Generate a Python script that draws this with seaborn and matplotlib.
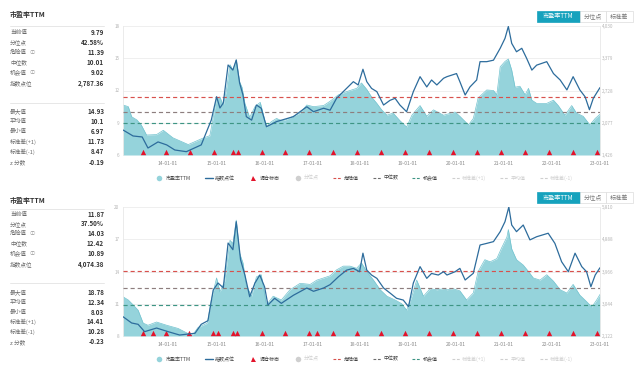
import matplotlib
matplotlib.use('Agg')
import matplotlib.pyplot as plt
import seaborn as sns
from matplotlib.lines import Line2D
from matplotlib.patches import Rectangle

# ---------------- data ----------------
x_ticks = [2014, 2015, 2016, 2017, 2018, 2019, 2020, 2021, 2022, 2023]
x_tick_labels = ['14-01-01', '15-01-01', '16-01-01', '17-01-01', '18-01-01',
                 '19-01-01', '20-01-01', '21-01-01', '22-01-01', '23-01-01']

# panel 1
pe1_t = [2013.06, 2013.17, 2013.24, 2013.35, 2013.44, 2013.55, 2013.76, 2013.90,
         2014.10, 2014.42, 2014.69, 2014.87, 2014.94,
         2015.01, 2015.08, 2015.15, 2015.21, 2015.29, 2015.35, 2015.42, 2015.49, 2015.54, 2015.60, 2015.70, 2015.81, 2015.92,
         2016.05, 2016.15, 2016.26, 2016.36, 2016.44, 2016.75, 2016.89,
         2017.03, 2017.24, 2017.375, 2017.55, 2017.72, 2017.93,
         2018.03, 2018.14, 2018.24, 2018.35, 2018.45, 2018.56, 2018.69, 2018.83, 2018.97,
         2019.08, 2019.25, 2019.39, 2019.53, 2019.74, 2019.98,
         2020.08, 2020.26, 2020.36, 2020.46, 2020.64, 2020.78, 2020.85, 2020.92,
         2021.02, 2021.09, 2021.16, 2021.23, 2021.33, 2021.44, 2021.51, 2021.58, 2021.68, 2021.89,
         2022.03, 2022.13, 2022.27, 2022.41, 2022.51, 2022.65, 2022.79, 2022.90, 2023.00]
pe1_v = [10.65, 10.5, 9.56, 9.26, 8.8, 7.86, 7.9, 8.3,
         7.6, 6.97, 7.5, 7.8, 9.5,
         11.3, 11.4, 10.6, 11.9, 14.4, 13.9, 14.85, 12.8, 12.3, 10.8, 9.5, 10.5, 10.9,
         8.6, 9.1, 9.4, 9.2, 9.26, 9.9, 10.65,
         10.5, 10.6, 11.0, 11.6, 11.9, 12.2,
         12.7, 12.1, 11.4, 10.8, 10.2, 9.7, 9.9, 9.2, 8.6,
         9.7, 10.6, 9.6, 10.2, 9.7, 10.0,
         9.6, 8.8, 9.4, 11.3, 12.05, 12.0, 11.6, 14.2,
         14.7, 14.93, 13.9, 12.3, 12.4, 11.6, 12.2, 11.1, 10.8, 10.8,
         11.1, 10.6, 9.7, 10.6, 9.9, 9.6, 8.8, 9.4, 9.79]
idx1_t = [2013.06, 2013.27, 2013.46, 2013.58, 2013.79, 2013.97,
          2014.14, 2014.38, 2014.69, 2014.90,
          2015.01, 2015.08, 2015.15, 2015.25, 2015.35, 2015.42, 2015.49, 2015.56, 2015.63, 2015.74, 2015.84, 2015.94,
          2016.05, 2016.26, 2016.61, 2016.89,
          2017.03, 2017.24, 2017.375, 2017.51, 2017.65, 2017.86, 2017.96,
          2018.06, 2018.14, 2018.24, 2018.35, 2018.49, 2018.625, 2018.73, 2018.83, 2018.97,
          2019.11, 2019.25, 2019.39, 2019.49, 2019.60, 2019.74, 2019.81,
          2020.01, 2020.08, 2020.19, 2020.29, 2020.43, 2020.50, 2020.64, 2020.78, 2020.92,
          2021.02, 2021.09, 2021.16, 2021.26, 2021.37, 2021.47, 2021.58, 2021.68, 2021.89,
          2022.03, 2022.17, 2022.31, 2022.44, 2022.58, 2022.69, 2022.78, 2022.86, 2023.00]
idx1_v = [1931, 1810, 1790, 1567, 1690, 1630,
          1527, 1493, 1630, 2132,
          2603, 2375, 2476, 3243, 3140, 3344, 2880, 2637, 2200, 2130, 2435, 2370,
          1997, 2100, 2200, 2400,
          2300, 2370, 2330, 2570, 2705, 2906, 2840,
          3157, 2906, 2770, 2705, 2435, 2530, 2570, 2435, 2300,
          2705, 3007, 2800, 2940, 2840, 2975, 3007,
          3070, 2906, 2637, 2800, 2940, 3310, 3310, 3340, 3580,
          3780, 4020, 3680, 3510, 3580, 3380, 3140, 3240, 3310,
          3070, 2940, 2740, 3007, 2740, 2600, 2340, 2570, 2787]
tri1_t = [2013.48, 2013.96, 2014.46, 2014.96, 2015.35, 2015.46, 2015.96, 2016.44, 2016.94,
          2017.44, 2017.94, 2018.43, 2018.94, 2019.44, 2019.94, 2020.44, 2020.94, 2021.43,
          2021.93, 2022.43, 2022.93]

# panel 2
pe2_t = [2013.06, 2013.17, 2013.27, 2013.375, 2013.48, 2013.58, 2013.76, 2013.97,
         2014.21, 2014.50, 2014.625, 2014.82, 2014.90,
         2015.01, 2015.08, 2015.18, 2015.29, 2015.35, 2015.42, 2015.49, 2015.56, 2015.63, 2015.74, 2015.84, 2015.94,
         2016.05, 2016.19, 2016.36, 2016.54, 2016.75, 2016.96,
         2017.10, 2017.24, 2017.375, 2017.51, 2017.65, 2017.79, 2017.93,
         2018.03, 2018.14, 2018.28, 2018.42, 2018.56, 2018.73, 2018.87, 2018.97,
         2019.08, 2019.18, 2019.32, 2019.46, 2019.60, 2019.74, 2019.81, 2019.94,
         2020.08, 2020.22, 2020.36, 2020.46, 2020.60, 2020.71, 2020.85, 2020.95,
         2021.06, 2021.09, 2021.16, 2021.26, 2021.40, 2021.51, 2021.61, 2021.75, 2021.89,
         2022.03, 2022.17, 2022.31, 2022.44, 2022.58, 2022.72, 2022.83, 2022.93, 2023.00]
pe2_v = [11.65, 11.35, 10.9, 10.4, 9.2, 9.0, 9.3, 9.0,
         8.7, 8.03, 8.8, 9.2, 11.35,
         13.4, 12.1, 13.1, 16.9, 16.6, 18.78, 15.7, 14.8, 12.7, 11.7, 13.5, 13.7,
         10.9, 11.7, 11.35, 12.3, 12.9, 12.8,
         13.2, 13.4, 13.6, 14.15, 14.5, 14.5, 14.3,
         14.8, 14.0, 13.2, 12.3, 11.7, 11.35, 11.0, 10.4,
         11.7, 13.2, 11.7, 12.4, 12.3, 12.4, 12.3, 12.4,
         12.2, 11.35, 12.0, 14.0, 15.1, 14.9, 15.2, 16.2,
         17.2, 17.9, 16.1, 15.1, 14.6, 14.0, 13.4, 13.2, 13.7,
         13.1, 12.3, 12.0, 12.8, 11.8, 11.2, 10.7, 11.35, 11.87]
idx2_t = [2013.06, 2013.24, 2013.375, 2013.51, 2013.76,
          2014.00, 2014.24, 2014.56, 2014.69, 2014.83, 2014.94,
          2015.04, 2015.15, 2015.25, 2015.35, 2015.42, 2015.51, 2015.60, 2015.70, 2015.81, 2015.91,
          2016.01, 2016.08, 2016.22, 2016.36, 2016.61, 2016.89,
          2017.03, 2017.24, 2017.375, 2017.55, 2017.72, 2017.86, 2017.99,
          2018.06, 2018.14, 2018.24, 2018.35, 2018.49, 2018.625, 2018.76, 2018.90,
          2019.01, 2019.11, 2019.25, 2019.39, 2019.49, 2019.63, 2019.74, 2019.81, 2019.98,
          2020.08, 2020.19, 2020.36, 2020.50, 2020.64, 2020.78, 2020.92,
          2021.02, 2021.10, 2021.16, 2021.26, 2021.40, 2021.54, 2021.68, 2021.92,
          2022.06, 2022.20, 2022.34, 2022.48, 2022.62, 2022.72, 2022.81, 2022.90, 2023.00]
idx2_v = [2674, 2494, 2456, 2246, 2350,
          2246, 2150, 2200, 2456, 2560, 3437,
          3637, 3500, 4780, 4590, 5390, 4300, 3865, 3245, 3637, 3865,
          3530, 3008, 3200, 3056, 3286, 3494,
          3400, 3494, 3590, 3817, 4005, 4055, 3960,
          4490, 4005, 3865, 3770, 3494, 3350, 3200, 3150,
          2960, 3637, 4105, 3770, 3910, 3865, 3960, 3865, 3960,
          4055, 3723, 3915, 4723, 4770, 4820, 5105,
          5390, 5810, 5295, 5105, 5295, 4870, 4960, 5060,
          4770, 4245, 3960, 4490, 4105, 3960, 3530, 3865, 4074]
tri2_t = [2013.48, 2013.69, 2013.96, 2014.44, 2014.94, 2015.04, 2015.35, 2015.44, 2015.96,
          2016.44, 2016.94, 2017.10, 2017.44, 2017.94, 2018.43, 2018.94, 2019.44, 2019.94,
          2020.44, 2020.94, 2021.43, 2021.94, 2022.43, 2022.94]

left1_yticks = [6, 9, 12, 15, 18]
right1_yticks = [1426, 2077, 2728, 3379, 4030]
left2_yticks = [8, 11, 14, 17, 20]
right2_yticks = [2122, 3044, 3966, 4888, 5810]

levels1 = [11.39, 10.01, 9.02]   # 危险值, 中位数, 机会值
levels2 = [14.03, 12.42, 10.89]

info_labels = ['当前值', '分位点', '危险值', '中位数', '机会值', '指数点位']
stat_labels = ['最大值', '平均值', '最小值', '标准差(+1)', '标准差(-1)', 'z 分数']
info1 = ['9.79', '42.58%', '11.39', '10.01', '9.02', '2,787.36']
stat1 = ['14.93', '10.1', '6.97', '11.73', '8.47', '-0.19']
info2 = ['11.87', '37.50%', '14.03', '12.42', '10.89', '4,074.38']
stat2 = ['18.78', '12.34', '8.03', '14.41', '10.28', '-0.23']

legend_labels = ['市盈率TTM', '指数点位', '调仓标志', '分位点', '危险值', '中位数', '机会值',
                 '标准差(+1)', '平均值', '标准差(-1)']
button_labels = ['市盈率TTM', '分位点', '标准差']

# ---------------- style ----------------
sns.set_theme(style='white')
plt.rcParams['font.family'] = ['Noto Sans CJK SC', 'DejaVu Sans']
plt.rcParams['axes.unicode_minus'] = False

W, H = 640, 372
fig = plt.figure(figsize=(6.4, 3.72), dpi=100)
fig.patch.set_facecolor('white')


def fx(x):
    return x / W


def fy(y):
    return 1 - y / H


TEAL = '#95d3db'
TEAL_EDGE = '#72c3cf'
BLUE = '#2d6c9c'
RED = '#d8514d'
MED = '#8d7e7e'
OPP = '#3e9584'
TRI = '#e3132b'
OFF = '#cfcfcf'


def draw_panel(top, pe_t, pe_v, idx_t, idx_v, tri_t, lyt, ryt, lv, info, stat, txt):
    ax = fig.add_axes([fx(123), fy(top + 129), fx(600) - fx(123), 129 / H])
    ax.set_facecolor('none')
    ax.fill_between(pe_t, lyt[0], pe_v, color=TEAL, lw=0, zorder=1)
    sns.lineplot(x=pe_t, y=pe_v, ax=ax, color=TEAL_EDGE, lw=0.5, estimator=None, zorder=2)
    for v, c in zip(lv, [RED, MED, OPP]):
        ax.axhline(v, color=c, lw=0.85, ls=(0, (3.5, 2.5)), zorder=3)
    ax.scatter(tri_t, [lyt[0] + 0.25] * len(tri_t), marker='^', s=15, color=TRI,
               linewidths=0, clip_on=False, zorder=6)
    ax.set_xlim(2013.06, 2023.0)
    ax.set_ylim(lyt[0], lyt[-1])
    ax.set_yticks(lyt)
    ax.set_yticklabels([str(t) for t in lyt])
    ax.set_xticks(x_ticks)
    ax.set_xticklabels(x_tick_labels)
    ax.grid(axis='y', color='#ececec', lw=0.6)
    ax.grid(axis='x', visible=False)
    ax.tick_params(axis='x', length=0, labelsize=3.6, colors='#8a8a8a', pad=4.5)
    ax.tick_params(axis='y', length=0, labelsize=3.3, colors='#b5b5b5', pad=2.5)
    ax.set_xlabel('')
    ax.set_ylabel('')
    for s in ['top', 'bottom']:
        ax.spines[s].set_visible(False)
    for s in ['left', 'right']:
        ax.spines[s].set_color('#e8e8e8')
        ax.spines[s].set_linewidth(0.6)

    ax2 = ax.twinx()
    sns.lineplot(x=idx_t, y=idx_v, ax=ax2, color=BLUE, lw=0.9, estimator=None, zorder=5)
    ax2.set_ylim(ryt[0], ryt[-1])
    ax2.set_yticks(ryt)
    ax2.set_yticklabels([f'{t:,}' for t in ryt])
    ax2.grid(False)
    ax2.tick_params(axis='y', length=0, labelsize=3.3, colors='#b5b5b5', pad=1.2)
    ax2.set_ylabel('')
    for s in ax2.spines.values():
        s.set_visible(False)

    # legend
    handles = [
        Line2D([], [], ls='', marker='o', markersize=4.0, markerfacecolor=TEAL, markeredgewidth=0),
        Line2D([], [], color=BLUE, lw=1.0),
        Line2D([], [], ls='', marker='^', markersize=3.6, markerfacecolor=TRI, markeredgewidth=0),
        Line2D([], [], ls='', marker='o', markersize=4.0, markerfacecolor=OFF, markeredgewidth=0),
        Line2D([], [], color=RED, lw=0.8, ls=(0, (2.5, 1.5))),
        Line2D([], [], color='#6f6f6f', lw=0.8, ls=(0, (2.5, 1.5))),
        Line2D([], [], color=OPP, lw=0.8, ls=(0, (2.5, 1.5))),
        Line2D([], [], color=OFF, lw=0.8, ls=(0, (2.5, 1.5))),
        Line2D([], [], color=OFF, lw=0.8, ls=(0, (2.5, 1.5))),
        Line2D([], [], color=OFF, lw=0.8, ls=(0, (2.5, 1.5))),
    ]
    leg = fig.legend(handles=handles, labels=legend_labels, loc='center',
                     bbox_to_anchor=(fx(364), fy(top + 152)), ncol=10, frameon=False,
                     fontsize=3.6, handlelength=1.6, handletextpad=0.5, columnspacing=2.8)
    for i, t in enumerate(leg.get_texts()):
        t.set_color(OFF if i in (3, 7, 8, 9) else '#444444')

    # buttons
    bx = [537, 580, 606, 633]
    btop = top - 15
    for i, lab in enumerate(button_labels):
        filled = i == 0
        r = Rectangle((fx(bx[i]), fy(btop + 11)), fx(bx[i + 1]) - fx(bx[i]), 11 / H,
                      transform=fig.transFigure, facecolor='#16a2bd' if filled else 'white',
                      edgecolor='#16a2bd' if filled else '#dcdcdc', lw=0.5)
        fig.add_artist(r)
        fig.text(fx((bx[i] + bx[i + 1]) / 2), fy(btop + 5.5), lab, ha='center', va='center',
                 fontsize=4.4, color='white' if filled else '#777777')

    # left info panel
    fig.text(fx(10), fy(txt['title']), '市盈率TTM', fontsize=5.0, fontweight='bold',
             color='#333333', va='center', ha='left')
    for yy in (txt['sep1'], txt['sep2']):
        fig.add_artist(Line2D([fx(10), fx(104)], [fy(yy), fy(yy)], transform=fig.transFigure,
                              color='#e3e3e3', lw=0.6))
    for lab, val, yy in zip(info_labels, info, txt['rows1']):
        fig.text(fx(10), fy(yy), lab, fontsize=4.1, color='#6a6a6a', va='center', ha='left')
        fig.text(fx(104), fy(yy), val, fontsize=4.5, color='#333333', fontweight='bold',
                 va='center', ha='right')
        if lab in ('危险值', '机会值'):
            fig.text(fx(30), fy(yy), 'ⓘ', fontsize=3.8, color='#9a9a9a', va='center', ha='left')
    for lab, val, yy in zip(stat_labels, stat, txt['rows2']):
        fig.text(fx(10), fy(yy), lab, fontsize=4.1, color='#6a6a6a', va='center', ha='left')
        fig.text(fx(104), fy(yy), val, fontsize=4.5, color='#333333', fontweight='bold',
                 va='center', ha='right')


draw_panel(26, pe1_t, pe1_v, idx1_t, idx1_v, tri1_t, left1_yticks, right1_yticks, levels1,
           info1, stat1,
           dict(title=15, sep1=26, rows1=[32.5, 42.5, 52.5, 62.5, 72.5, 83.5], sep2=103,
                rows2=[111.5, 121.5, 131.5, 141.5, 151.5, 162]))
draw_panel(207, pe2_t, pe2_v, idx2_t, idx2_v, tri2_t, left2_yticks, right2_yticks, levels2,
           info2, stat2,
           dict(title=200, sep1=209, rows1=[214.5, 224, 233.5, 243.5, 253.5, 264], sep2=283,
                rows2=[292.5, 302.5, 312.5, 322, 332, 342]))

fig.savefig('out.png', dpi=100, facecolor='white')
